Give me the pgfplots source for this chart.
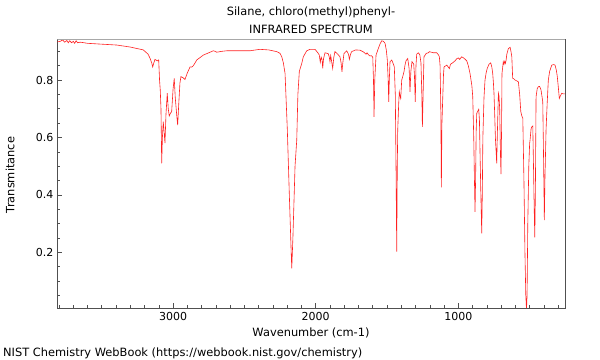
\documentclass[border=0pt]{standalone}
\usepackage{fontspec}
\setmainfont{DejaVu Sans}
\usepackage{pgfplots}
\pgfplotsset{compat=1.18}
\definecolor{frameDark}{HTML}{505050}
\definecolor{frameLight}{HTML}{A8A8A8}
\definecolor{specRed}{HTML}{FF2020}
\begin{document}
\fontsize{11.4bp}{13bp}\selectfont
\begin{tikzpicture}
\useasboundingbox (0,0) rectangle (600bp,360bp);
\begin{axis}[
  at={(57.3bp,52bp)}, anchor=south west,
  scale only axis, width=508bp, height=268.7bp,
  x dir=reverse,
  xmin=250, xmax=3812, ymin=0.006, ymax=0.942,
  axis line style={frameDark, line width=0.8bp},
  tick pos=left, tick align=inside,
  major tick length=5bp, minor tick length=3bp,
  every tick/.style={frameDark, line width=0.6bp},
  xtick={1000,2000,3000}, xticklabels={1000,2000,3000},
  minor xtick={300,400,500,600,700,800,900,1100,1200,1300,1400,1500,1600,1700,1800,1900,2100,2200,2300,2400,2500,2600,2700,2800,2900,3100,3200,3300,3400,3500,3600,3700,3800},
  ytick={0.2,0.4,0.6,0.8}, yticklabels={0.2,0.4,0.6,0.8},
  minor ytick={0.05,0.1,0.15,0.25,0.3,0.35,0.45,0.5,0.55,0.65,0.7,0.75,0.85,0.9},
  ticklabel style={font=\fontsize{11bp}{13bp}\selectfont, text=black},
  clip=true,
]
\addplot[specRed, line width=0.6bp] coordinates {
(3812,.933)(3790,.935)(3775,.94)(3760,.932)(3745,.938)(3735,.93)(3725,.937)(3712,.93)(3700,.935)(3690,.928)(3680,.937)(3670,.93)(3650,.932)(3600,.928)(3500,.925)(3395,.922)(3300,.915)(3209,.905)(3175,.89)(3162,.876)(3150,.86)(3143,.846)(3135,.86)(3127,.872)(3111,.867)(3101,.870)(3095,.80)(3090,.765)(3085,.70)(3080,.51)(3075,.60)(3069,.655)(3063,.62)(3057,.58)(3050,.68)(3041,.754)(3034,.70)(3027,.675)(3018,.685)(3010,.69)(3000,.77)(2992,.806)(2985,.74)(2975,.68)(2968,.643)(2960,.72)(2952,.79)(2945,.812)(2930,.808)(2917,.802)(2900,.825)(2881,.846)(2870,.845)(2858,.85)(2834,.87)(2788,.887)(2750,.895)(2718,.902)(2705,.900)(2694,.897)(2660,.900)(2624,.902)(2550,.902)(2461,.902)(2420,.905)(2391,.907)(2330,.905)(2273,.899)(2250,.893)(2238,.881)(2227,.86)(2215,.823)(2199,.626)(2185,.40)(2172,.20)(2168,.144)(2160,.25)(2145,.50)(2133,.591)(2125,.75)(2115,.83)(2098,.858)(2087,.881)(2063,.902)(2040,.907)(2005,.907)(1985,.895)(1975,.887)(1968,.862)(1962,.88)(1955,.87)(1951,.841)(1945,.875)(1935,.895)(1912,.892)(1905,.88)(1900,.864)(1895,.885)(1890,.87)(1881,.841)(1873,.88)(1865,.899)(1845,.89)(1830,.881)(1822,.86)(1816,.829)(1810,.86)(1802,.892)(1783,.902)(1770,.89)(1764,.872)(1756,.89)(1748,.899)(1720,.905)(1689,.904)(1665,.898)(1647,.89)(1640,.895)(1630,.888)(1619,.884)(1610,.885)(1600,.88)(1595,.80)(1591,.672)(1586,.80)(1577,.887)(1561,.91)(1550,.925)(1537,.937)(1525,.935)(1514,.928)(1505,.905)(1498,.87)(1492,.80)(1488,.724)(1484,.80)(1479,.864)(1467,.87)(1455,.855)(1449,.846)(1442,.75)(1437,.50)(1432,.202)(1428,.50)(1425,.626)(1418,.72)(1414,.759)(1410,.748)(1404,.736)(1397,.80)(1390,.812)(1381,.829)(1374,.852)(1367,.867)(1355,.875)(1345,.84)(1339,.759)(1333,.83)(1325,.864)(1313,.856)(1308,.82)(1302,.724)(1297,.85)(1292,.89)(1280,.895)(1270,.888)(1262,.86)(1256,.75)(1252,.637)(1247,.75)(1241,.881)(1225,.893)(1210,.895)(1203,.899)(1175,.895)(1151,.895)(1140,.888)(1133,.881)(1128,.85)(1123,.70)(1119,.426)(1115,.65)(1109,.742)(1104,.82)(1100,.846)(1081,.852)(1070,.845)(1063,.84)(1055,.855)(1046,.858)(1035,.862)(1023,.867)(1010,.875)(1000,.877)(990,.872)(985,.876)(976,.881)(960,.876)(941,.867)(930,.85)(918,.823)(905,.78)(899,.742)(892,.60)(887,.45)(883,.341)(879,.45)(875,.62)(871,.684)(865,.69)(857,.698)(852,.66)(848,.55)(842,.40)(836,.266)(832,.40)(828,.60)(820,.74)(813,.80)(805,.825)(797,.841)(785,.855)(773,.86)(765,.845)(759,.823)(754,.79)(750,.754)(745,.68)(740,.597)(735,.55)(731,.51)(727,.60)(722,.70)(719,.754)(715,.745)(710,.70)(705,.55)(701,.472)(697,.62)(694,.823)(690,.84)(685,.864)(680,.855)(675,.865)(670,.858)(665,.87)(660,.89)(649,.91)(642,.912)(637,.914)(631,.90)(625,.881)(619,.806)(612,.805)(602,.80)(590,.797)(579,.794)(570,.75)(562,.69)(555,.675)(548,.667)(540,.45)(533,.20)(527,.05)(522,.0)(518,.05)(513,.30)(506,.50)(500,.58)(497,.591)(490,.63)(485,.637)(478,.64)(473,.50)(468,.35)(464,.252)(460,.40)(455,.742)(447,.77)(439,.777)(430,.778)(420,.765)(408,.724)(403,.55)(397,.312)(393,.45)(385,.626)(377,.72)(369,.80)(360,.83)(345,.852)(330,.854)(322,.852)(313,.835)(306,.812)(298,.77)(292,.736)(284,.745)(275,.754)(265,.752)(252,.752)
};
\draw[frameLight, line width=1.4bp] (rel axis cs:0,1) -- (rel axis cs:1,1);
\end{axis}
\node at (311bp,348bp) {Silane, chloro(methyl)phenyl-};
\node at (311bp,331bp) {INFRARED SPECTRUM};
\node at (311bp,27bp) {Wavenumber (cm-1)};
\node[anchor=west, inner sep=0pt] at (3bp,7bp) {NIST Chemistry WebBook (https://webbook.nist.gov/chemistry)};
\node[rotate=90] at (10bp,185bp) {Transmitance};
\end{tikzpicture}
\end{document}
